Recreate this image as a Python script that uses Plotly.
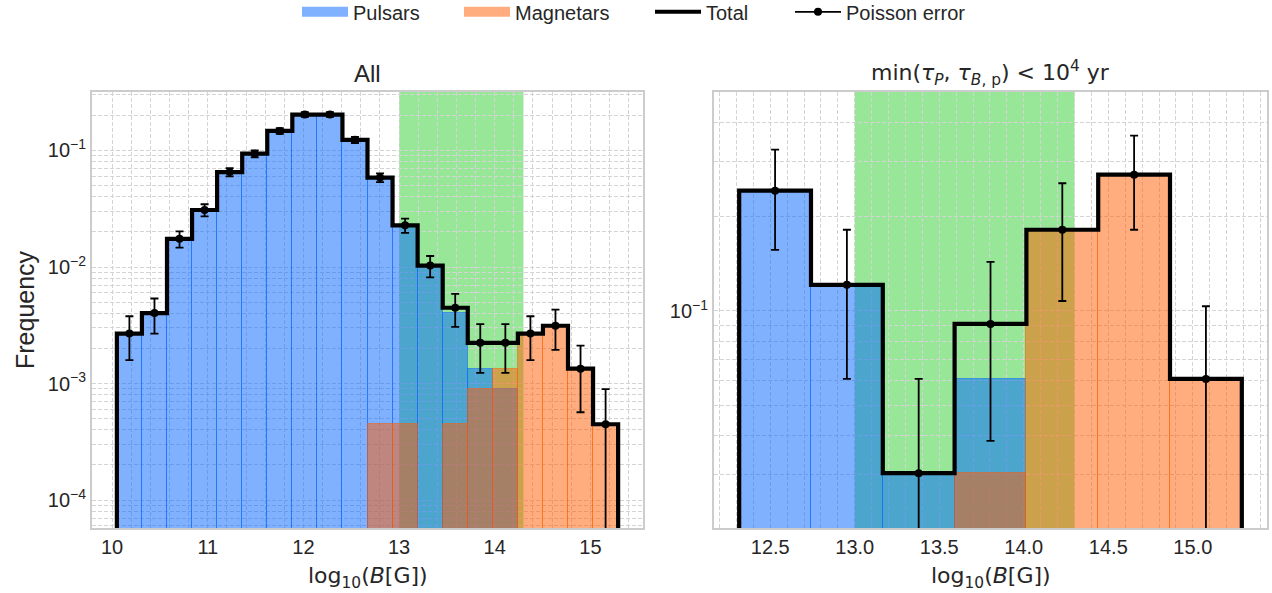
import numpy as np
import plotly.graph_objects as go

# ---------------- data: left panel ("All") ----------------
ALL_B_MIN = 10.05
ALL_B_MAX = 15.29
ALL_N_BINS = 20
all_pulsars = [0.002683, 0.004025, 0.01744, 0.03086, 0.0653, 0.09392, 0.1471, 0.2035,
               0.2035, 0.1234, 0.05814, 0.02236, 0.01029, 0.004025, 0.001342, 0.000894,
               None, None, None, None]
all_magnetars = [None, None, None, None, None, None, None, None, None, None,
                 0.000447, 0.000447, None, 0.000447, 0.000894, 0.001342, 0.002683,
                 0.003131, 0.001342, 0.000447]
all_total = [0.002683, 0.004025, 0.01744, 0.03086, 0.0653, 0.09392, 0.1471, 0.2035,
             0.2035, 0.1234, 0.05859, 0.02281, 0.01029, 0.004472, 0.002236, 0.002236,
             0.002683, 0.003131, 0.001342, 0.000447]
all_err = [0.001095, 0.001342, 0.002793, 0.003715, 0.005404, 0.006481, 0.008112, 0.00954,
           0.00954, 0.00743, 0.005119, 0.003194, 0.002145, 0.001414, 0.001, 0.001,
           0.001095, 0.001183, 0.000775, 0.000447]

# ---------------- data: right panel (young sources) ----------------
YNG_B_MIN = 12.316
YNG_B_MAX = 15.29
YNG_N_BINS = 7
yng_pulsars = [0.2424, 0.1212, 0.0303, 0.0606, None, None, None]
yng_magnetars = [None, None, None, 0.0303, 0.1818, 0.2727, 0.0606]
yng_total = [0.2424, 0.1212, 0.0303, 0.0909, 0.1818, 0.2727, 0.0606]
yng_err = [0.0857, 0.0606, 0.0303, 0.0525, 0.0742, 0.0909, 0.0429]

# highlighted B range
BAND_LO, BAND_HI = 13.0, 14.3

legend_names = ["Pulsars", "Magnetars", "Total", "Poisson error"]
title_left = "All"
title_right = ("min(<i>τ</i><sub><i>P</i></sub>, <i>τ</i><sub><i>B</i>, p</sub>)"
               " < 10<sup>4</sup> yr")
xlabel = "log<sub>10</sub>(<i>B</i>[G])"
ylabel = "Frequency"

# ---------------- style ----------------
PULSAR_C = "rgba(0,100,255,0.5)"
MAGNETAR_C = "rgba(255,92,0,0.5)"
BAND_C = "rgba(50,205,50,0.5)"
GRID_C = "#d4d4d4"
FRAME_C = "#cccccc"
TXT_C = "#262626"
SANS = "Liberation Sans, Arial, sans-serif"
MATH = "DejaVu Sans, sans-serif"
BASE = 1e-7  # below the visible log range, step outline drops to it

XDOM_L = [92 / 1272, 643 / 1272]
XDOM_R = [714 / 1272, 1267 / 1272]
YDOM = [1 - 528 / 593, 1 - 92 / 593]
LEGEND_X_PX = [297, 459, 650, 790]   # left edge of each legend entry

fig = go.Figure()


def add_panel(xa, ya, lo, hi, n, pul, mag, tot, err):
    edges = np.linspace(lo, hi, n + 1)
    centers = 0.5 * (edges[:-1] + edges[1:])
    w = edges[1] - edges[0]
    fig.add_trace(go.Bar(x=centers, y=pul, width=w, xaxis=xa, yaxis=ya,
                         marker=dict(color=PULSAR_C, line=dict(color=PULSAR_C, width=1)),
                         showlegend=False, hoverinfo="skip"))
    fig.add_trace(go.Bar(x=centers, y=mag, width=w, xaxis=xa, yaxis=ya,
                         marker=dict(color=MAGNETAR_C, line=dict(color=MAGNETAR_C, width=1)),
                         showlegend=False, hoverinfo="skip"))
    xs = np.repeat(edges, 2)
    ys = [BASE] + [t for t in tot for _ in (0, 1)] + [BASE]
    fig.add_trace(go.Scatter(x=xs, y=ys, mode="lines", xaxis=xa, yaxis=ya,
                             line=dict(color="black", width=4.2),
                             showlegend=False, hoverinfo="skip"))
    fig.add_trace(go.Scatter(x=centers, y=tot, mode="markers", xaxis=xa, yaxis=ya,
                             marker=dict(color="black", size=8),
                             error_y=dict(type="data", array=err, arrayminus=err,
                                          color="black", thickness=1.8, width=4),
                             showlegend=False, hoverinfo="skip"))
    fig.add_shape(type="rect", xref=xa, yref=ya + " domain", x0=BAND_LO, x1=BAND_HI,
                  y0=0, y1=1, fillcolor=BAND_C, line=dict(width=0), layer="below")


add_panel("x", "y", ALL_B_MIN, ALL_B_MAX, ALL_N_BINS,
          all_pulsars, all_magnetars, all_total, all_err)
add_panel("x2", "y2", YNG_B_MIN, YNG_B_MAX, YNG_N_BINS,
          yng_pulsars, yng_magnetars, yng_total, yng_err)

# legend entries, one small legend per entry so each sits where the reference has it
fig.add_trace(go.Scatter(x=[None], y=[None], mode="lines", name=legend_names[0],
                         legend="legend", line=dict(color=PULSAR_C, width=14)))
fig.add_trace(go.Scatter(x=[None], y=[None], mode="lines", name=legend_names[1],
                         legend="legend2", line=dict(color=MAGNETAR_C, width=14)))
fig.add_trace(go.Scatter(x=[None], y=[None], mode="lines", name=legend_names[2],
                         legend="legend3", line=dict(color="black", width=4)))
fig.add_trace(go.Scatter(x=[None], y=[None], mode="lines+markers", name=legend_names[3],
                         legend="legend4", line=dict(color="black", width=1.8),
                         marker=dict(color="black", size=8)))


def legend_box(px):
    return dict(orientation="h", x=px / 1272, xanchor="left", y=1.013, yanchor="top",
                itemwidth=46,
                font=dict(family=SANS, size=20, color=TXT_C), bgcolor="rgba(0,0,0,0)")


axis_common = dict(showline=True, mirror=True, linecolor=FRAME_C, linewidth=2,
                   showgrid=True, gridcolor=GRID_C, gridwidth=1, griddash="4px,2px",
                   zeroline=False, ticks="",
                   tickfont=dict(family=SANS, size=20, color=TXT_C))


def minor_log(decades):
    return [m * 10.0 ** d for d in decades for m in range(2, 10)]


fig.update_layout(
    width=1272, height=593,
    margin=dict(l=0, r=0, t=0, b=0, autoexpand=False),
    paper_bgcolor="white", plot_bgcolor="white",
    barmode="overlay", bargap=0,
    showlegend=True,
    legend=legend_box(LEGEND_X_PX[0]),
    legend2=legend_box(LEGEND_X_PX[1]),
    legend3=legend_box(LEGEND_X_PX[2]),
    legend4=legend_box(LEGEND_X_PX[3]),
    xaxis=dict(domain=XDOM_L, anchor="y", range=[9.79, 15.55], tick0=10, dtick=1,
               minor=dict(dtick=0.2, showgrid=True, gridcolor=GRID_C, griddash="4px,2px",
                          ticks=""),
               **axis_common),
    yaxis=dict(domain=YDOM, anchor="x", type="log", range=[-4.24, -0.498],
               tickvals=[1e-4, 1e-3, 1e-2, 1e-1],
               ticktext=["10<sup>−4</sup>", "10<sup>−3</sup>", "10<sup>−2</sup>",
                         "10<sup>−1</sup>"],
               minor=dict(tickvals=minor_log([-5, -4, -3, -2, -1]), showgrid=True,
                          gridcolor=GRID_C, griddash="4px,2px", ticks=""),
               **axis_common),
    xaxis2=dict(domain=XDOM_R, anchor="y2", range=[12.167, 15.439], tick0=12.5, dtick=0.5,
                tickformat=".1f",
                minor=dict(dtick=0.1, showgrid=True, gridcolor=GRID_C, griddash="4px,2px",
                           ticks=""),
                **axis_common),
    yaxis2=dict(domain=YDOM, anchor="x2", type="log", range=[-1.694, -0.300],
                tickvals=[1e-1], ticktext=["10<sup>−1</sup>"],
                minor=dict(tickvals=minor_log([-2, -1]), showgrid=True,
                           gridcolor=GRID_C, griddash="4px,2px", ticks=""),
                **axis_common),
)

annos = [
    dict(text=title_left, x=(XDOM_L[0] + XDOM_L[1]) / 2, y=1 - 73 / 593,
         font=dict(family=SANS, size=24, color=TXT_C)),
    dict(text=title_right, x=(XDOM_R[0] + XDOM_R[1]) / 2, y=1 - 73 / 593,
         font=dict(family=MATH, size=22, color=TXT_C)),
    dict(text=xlabel, x=(XDOM_L[0] + XDOM_L[1]) / 2, y=1 - 577 / 593,
         font=dict(family=MATH, size=22, color=TXT_C)),
    dict(text=xlabel, x=(XDOM_R[0] + XDOM_R[1]) / 2, y=1 - 577 / 593,
         font=dict(family=MATH, size=22, color=TXT_C)),
    dict(text=ylabel, x=25 / 1272, y=(YDOM[0] + YDOM[1]) / 2, textangle=-90,
         font=dict(family=SANS, size=25, color=TXT_C)),
]
for a in annos:
    fig.add_annotation(xref="paper", yref="paper", showarrow=False,
                       xanchor="center", yanchor="middle", **a)

fig.write_html("out.html")
